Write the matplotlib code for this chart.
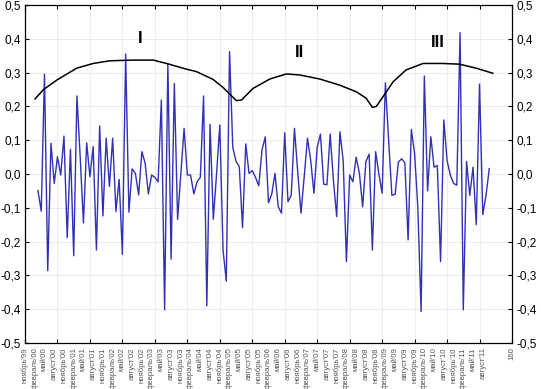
import numpy as np
import matplotlib
matplotlib.use('Agg')
import matplotlib.pyplot as plt

# monthly series (blue)
values = [-0.049, -0.11, 0.295, -0.286, 0.091, -0.028, 0.051, -0.003, 0.112, -0.188,
          0.073, -0.242, 0.231, 0.05, -0.145, 0.092, -0.008, 0.081, -0.225, 0.142,
          -0.124, 0.106, -0.037, 0.106, -0.111, -0.016, -0.238, 0.355, -0.113, 0.015,
          0.002, -0.062, 0.066, 0.032, -0.059, -0.003, -0.01, -0.023, 0.219, -0.402,
          0.327, -0.252, 0.268, -0.134, 0.0, 0.135, -0.003, -0.003, -0.059, -0.023,
          -0.01, 0.231, -0.39, 0.147, -0.134, 0.0, 0.145, -0.225, -0.317, 0.362,
          0.079, 0.037, 0.022, -0.159, 0.089, 0.002, 0.01, -0.01, -0.035, 0.071,
          0.11, -0.085, -0.059, 0.002, -0.097, -0.116, 0.122, -0.082, -0.063, 0.135,
          0.006, -0.116, -0.008, 0.106, 0.04, -0.057, 0.079, 0.118, -0.03, -0.032,
          0.118, -0.02, -0.126, 0.125, 0.04, -0.259, -0.003, -0.023, 0.05, 0.002,
          -0.097, 0.037, 0.059, -0.225, 0.066, 0.0, -0.057, 0.27, 0.1, -0.063,
          -0.06, 0.035, 0.045, 0.033, -0.195, 0.132, 0.06, -0.1, -0.407, 0.29,
          -0.05, 0.11, 0.02, 0.025, -0.259, 0.16, 0.04, -0.003, -0.028, -0.033,
          0.418, -0.402, 0.037, -0.063, 0.02, -0.15, 0.266, -0.12, -0.063, 0.016]
x_start = 4

# envelope curve (black)
env_x = [3.1, 5.6, 9.8, 15.9, 21.0, 26.2, 33.3, 39.5, 43.6, 49.8, 52.8, 57.9, 61.0,
         63.1, 65.1, 66.7, 70.2, 75.4, 80.5, 84.6, 90.8, 96.9, 102.1, 105.1, 107.0,
         108.2, 110.3, 113.4, 117.4, 122.6, 128.7, 133.8, 139.0, 144.1]
env_y = [0.222, 0.249, 0.278, 0.313, 0.327, 0.335, 0.337, 0.337, 0.327, 0.31, 0.303,
         0.28, 0.256, 0.236, 0.217, 0.219, 0.253, 0.281, 0.296, 0.293, 0.281, 0.263,
         0.243, 0.224, 0.197, 0.2, 0.229, 0.273, 0.308, 0.327, 0.327, 0.325, 0.313, 0.298]

# quarterly labels: ноябрь'99, февраль'00, май'00, август'00, ноябрь'00 ... август'11
month_labels = ["ноябрь'99"]
for yr in ["%02d" % y for y in range(0, 12)]:
    month_labels += ["февраль'" + yr, "май'" + yr, "август'" + yr]
    if yr != "11":
        month_labels.append("ноябрь'" + yr)
end_label = "160"

y_ticks = [-0.5, -0.4, -0.3, -0.2, -0.1, 0.0, 0.1, 0.2, 0.3, 0.4, 0.5]
y_labels = [("%.1f" % v).replace(".", ",") for v in y_ticks]

phases = ["I", "II", "III"]
phase_x = [35.4, 84.6, 127.0]
phase_y = [0.402, 0.358, 0.388]

plt.rcParams['font.family'] = ['Liberation Sans', 'DejaVu Sans']

fig = plt.figure(figsize=(5.41, 3.89), dpi=100)
ax = fig.add_axes([25/541, 46/389, 487/541, 338/389])
ax.xaxis.remove_overlapping_locs = False

xs = np.arange(len(values)) + x_start
ax.plot(xs, values, color='#3030b8', lw=1.0)
ax.plot(env_x, env_y, color='black', lw=1.1)

for t, px, py in zip(phases, phase_x, phase_y):
    ax.text(px, py, t, fontsize=12, fontweight='bold', ha='center', va='center')

ax.set_xlim(0, 150)
ax.set_ylim(-0.5, 0.5)

# major ticks every 10 units, month labels as minor ticks every 3
ax.set_xticks(np.arange(0, 151, 10))
ax.set_xticklabels([])
lab_pos = list(np.arange(len(month_labels)) * 3) + [150]
ax.set_xticks(lab_pos, minor=True)
ax.set_xticklabels(month_labels + [end_label], minor=True)
ax.tick_params(axis='x', which='minor', length=0, pad=3, labelrotation=90,
               labelsize=5.6, labelcolor='#555555')
ax.tick_params(axis='x', which='major', direction='in', length=3, top=True)

ax.set_yticks(y_ticks)
ax.set_yticklabels(y_labels, fontsize=8.5)
ax.tick_params(axis='y', direction='in', length=3, right=True, labelright=True, pad=3)

ax.grid(True, which='major', color='#ececec', lw=0.7)
for s in ax.spines.values():
    s.set_linewidth(0.9)

fig.savefig('out.png', dpi=100)
